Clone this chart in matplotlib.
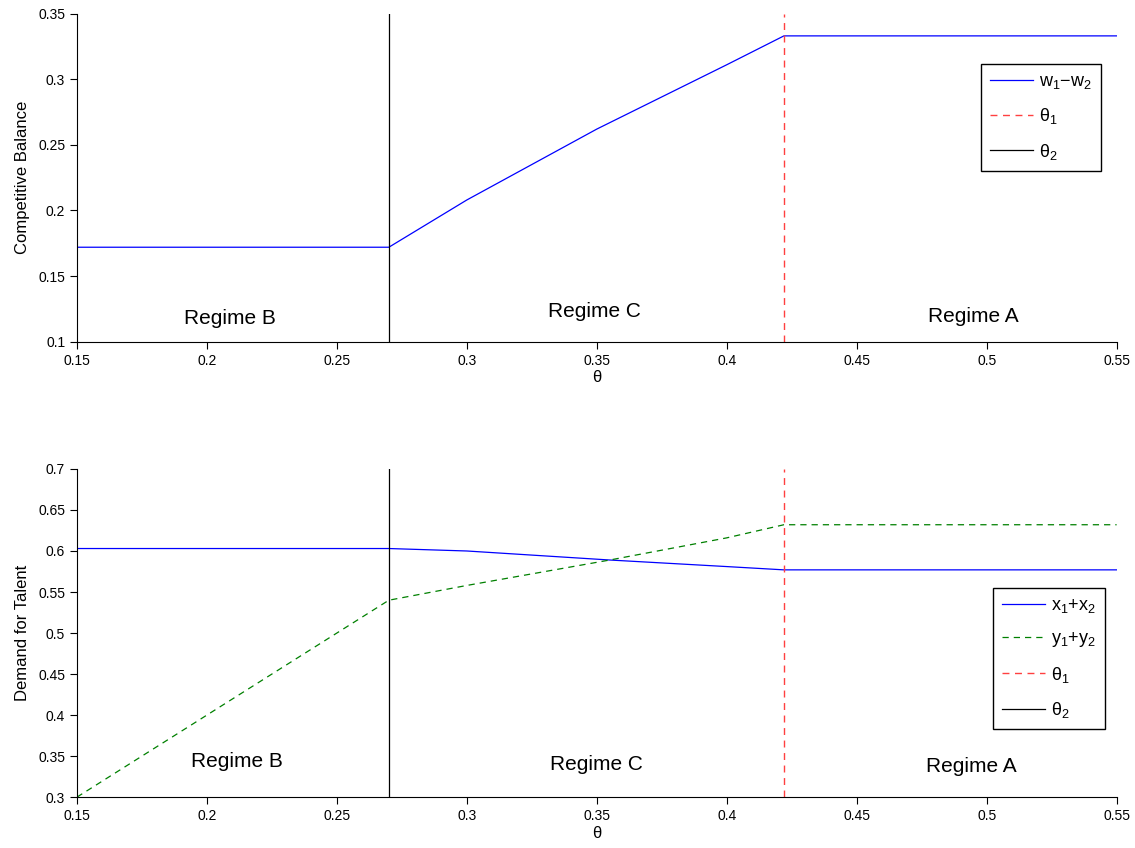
import numpy as np
import matplotlib
matplotlib.use("Agg")
import matplotlib.pyplot as plt

plt.rcParams['font.family'] = ['Liberation Sans', 'DejaVu Sans']
plt.rcParams['mathtext.default'] = 'regular'

# regime thresholds
theta1 = 0.422
theta2 = 0.27

# top panel: competitive balance
theta_top = [0.15, 0.27, 0.30, 0.35, 0.40, 0.422, 0.55]
w_diff = [0.172, 0.172, 0.208, 0.262, 0.311, 0.333, 0.333]

# bottom panel: demand for talent
theta_bot = [0.15, 0.27, 0.30, 0.355, 0.40, 0.422, 0.55]
x_sum = [0.603, 0.603, 0.600, 0.589, 0.581, 0.577, 0.577]
y_sum = [0.300, 0.540, 0.558, 0.589, 0.616, 0.632, 0.632]

regime_labels = ['Regime B', 'Regime C', 'Regime A']
top_label_pos = [(0.209, 0.1175), (0.349, 0.123), (0.495, 0.119)]
bot_label_pos = [(0.2115, 0.343), (0.350, 0.340), (0.494, 0.337)]

fig = plt.figure(figsize=(11.35, 8.48), dpi=100)
ax1 = fig.add_axes([0.0678, 0.597, 0.916, 0.387])
ax2 = fig.add_axes([0.0678, 0.060, 0.916, 0.387])

red = '#ff4040'


def style(ax, ylim, yticks, ylabel):
    ax.set_xlim(0.15, 0.55)
    ax.set_ylim(*ylim)
    ax.set_xticks(np.arange(0.15, 0.551, 0.05))
    ax.set_xticklabels(['0.15', '0.2', '0.25', '0.3', '0.35', '0.4', '0.45', '0.5', '0.55'])
    ax.set_yticks(yticks)
    ax.set_yticklabels([('%g' % t) for t in yticks])
    ax.spines['top'].set_visible(False)
    ax.spines['right'].set_visible(False)
    ax.tick_params(direction='out', length=5, labelsize=10, width=0.8)
    ax.set_xlabel('θ', fontsize=12, labelpad=2)
    ax.set_ylabel(ylabel, fontsize=12, labelpad=6)


def add_legend(ax, anchor):
    leg = ax.legend(loc='upper left', bbox_to_anchor=anchor, bbox_transform=fig.transFigure,
                    fontsize=13, fancybox=False, edgecolor='black', framealpha=1,
                    handlelength=2.4, borderpad=0.5, labelspacing=0.85, handletextpad=0.3,
                    borderaxespad=0)
    leg.get_frame().set_linewidth(1.0)
    return leg


# top
ax1.plot(theta_top, w_diff, color='#0000ff', lw=0.9, label='w$_1$−w$_2$')
ax1.plot([theta1, theta1], [0.1, 0.35], '--', color=red, lw=1.0, dashes=(5, 4), label='θ$_1$')
ax1.plot([theta2, theta2], [0.1, 0.35], color='black', lw=0.9, label='θ$_2$')
style(ax1, (0.1, 0.35), [0.1, 0.15, 0.2, 0.25, 0.3, 0.35], 'Competitive Balance')
for lab, (x, y) in zip(regime_labels, top_label_pos):
    ax1.text(x, y, lab, ha='center', va='center', fontsize=15)
add_legend(ax1, (981 / 1135, 1 - 64 / 848))

# bottom
ax2.plot(theta_bot, x_sum, color='#0000ff', lw=0.9, label='x$_1$+x$_2$')
ax2.plot(theta_bot, y_sum, '--', color='#008000', lw=0.9, dashes=(5, 4), label='y$_1$+y$_2$')
ax2.plot([theta1, theta1], [0.3, 0.7], '--', color=red, lw=1.0, dashes=(5, 4), label='θ$_1$')
ax2.plot([theta2, theta2], [0.3, 0.7], color='black', lw=0.9, label='θ$_2$')
style(ax2, (0.3, 0.7), [0.3, 0.35, 0.4, 0.45, 0.5, 0.55, 0.6, 0.65, 0.7], 'Demand for Talent')
for lab, (x, y) in zip(regime_labels, bot_label_pos):
    ax2.text(x, y, lab, ha='center', va='center', fontsize=15)
add_legend(ax2, (993 / 1135, 1 - 588 / 848))

fig.savefig('out.png', dpi=100)
